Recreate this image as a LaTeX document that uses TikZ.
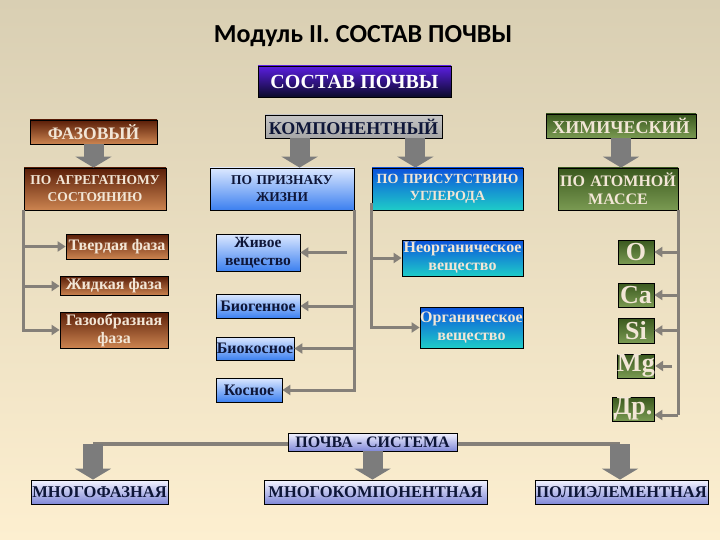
\documentclass[tikz,border=0pt]{standalone}
\usepackage{fontspec}
\setmainfont{Liberation Serif}
\newfontfamily\titlefont{Carlito}
\usetikzlibrary{arrows.meta}

\definecolor{bgtop}{HTML}{D9CFB3}
\definecolor{bgbot}{HTML}{FDEFD0}
\definecolor{brownT}{HTML}{5A1E08}
\definecolor{brownB}{HTML}{CC8450}
\definecolor{lightT}{HTML}{F2E6D6}
\definecolor{navy}{HTML}{0E1638}
\definecolor{skyT}{HTML}{DCE8FF}
\definecolor{skyB}{HTML}{3C80F0}
\definecolor{seaT}{HTML}{0C52DC}
\definecolor{seaB}{HTML}{1ECCC8}
\definecolor{olivT}{HTML}{3A581E}
\definecolor{olivB}{HTML}{7A9A52}
\definecolor{violT}{HTML}{5A1EE0}
\definecolor{violB}{HTML}{0A0A28}
\definecolor{lavT}{HTML}{F4F4FF}
\definecolor{lavB}{HTML}{8088D8}
\definecolor{linkgray}{HTML}{858079}
\definecolor{blockgray}{HTML}{7C7C7C}

\begin{document}
\begin{tikzpicture}[x=1pt, y=-1pt,
	box/.style={draw=black, line width=0.8pt, inner sep=0pt, align=center},
	fs/.style 2 args={font=\bfseries\fontsize{#1}{#2}\selectfont},
	brownbox/.style={box, top color=brownT, bottom color=brownB, text=lightT},
	skybox/.style={box, top color=skyT, bottom color=skyB, text=navy},
	seabox/.style={box, top color=seaT, bottom color=seaB, text=lightT},
	olivbox/.style={box, top color=olivT, bottom color=olivB, text=lightT},
	lavbox/.style={box, top color=lavT, bottom color=lavB, text=navy},
	link/.style={draw=linkgray, line width=3pt, -{Triangle[width=10pt,length=8pt]}},
	block/.style={draw=blockgray, line width=20pt, -{Triangle[width=36pt,length=11pt]}}]

	% background
	\shade[top color=bgtop, bottom color=bgbot] (0,0) rectangle (720,540);

	\node[font=\titlefont\bfseries\fontsize{26}{28}\selectfont] (title) at (363,36) {Модуль II. СОСТАВ ПОЧВЫ};
	\node[box, top color=violT, bottom color=violB, text=white, fs={20}{22},
		minimum width=193, minimum height=31] (sostav) at (354.5,81.5) {СОСТАВ ПОЧВЫ};

	% phase
	\node[brownbox, fs={17.5}{19}, minimum width=127, minimum height=24] (faz) at (93.5,132) {ФАЗОВЫЙ};
	\node[brownbox, fs={13.5}{17}, minimum width=142, minimum height=42, text width=142] (agr) at (95,189)
		{ПО АГРЕГАТНОМУ\\СОСТОЯНИЮ};
	\node[brownbox, fs={16}{18}, minimum width=102, minimum height=25] (tverd) at (117,246.5) {Твердая фаза};
	\node[brownbox, fs={16}{18}, minimum width=108, minimum height=19] (zhid) at (114,286) {Жидкая фаза};
	\node[brownbox, fs={16}{18}, minimum width=108, minimum height=36, text width=108] (gaz) at (114,330)
		{Газообразная\\фаза};

	\draw[block] (faz.south) -- (faz.south |- agr.north);
	\draw[link] (agr.south west) |- (tverd.west);
	\draw[link] (agr.south west) |- (zhid.west);
	\draw[link] (agr.south west) |- (gaz.west);

	% components
	\node[box, top color=gray!45, middle color=white, bottom color=gray!70, text=navy, fs={18}{20},
		minimum width=177, minimum height=23] (komp) at (353.5,126.5) {КОМПОНЕНТНЫЙ};
	\node[skybox, fs={13.5}{17}, minimum width=144, minimum height=42, text width=144] (priz) at (282,189)
		{ПО ПРИЗНАКУ\\ЖИЗНИ};
	\node[skybox, fs={15.5}{18}, minimum width=84, minimum height=37, text width=84] (zhivoe) at (258,252.5)
		{Живое\\вещество};
	\node[skybox, fs={16}{18}, minimum width=84, minimum height=24] (biogen) at (258,306) {Биогенное};
	\node[skybox, fs={16}{18}, minimum width=78, minimum height=23] (biokos) at (255,348.5) {Биокосное};
	\node[skybox, fs={16}{18}, minimum width=66, minimum height=24] (kosn) at (249,390) {Косное};

	\node[seabox, fs={14}{17}, minimum width=151, minimum height=42, text width=151] (prisut) at (447.5,189)
		{ПО ПРИСУТСТВИЮ\\УГЛЕРОДА};
	\node[seabox, fs={16}{18}, minimum width=121, minimum height=36, text width=121] (neorg) at (462.5,258)
		{Неорганическое\\вещество};
	\node[seabox, fs={16}{18}, minimum width=103, minimum height=41, text width=103] (org) at (471.5,327.5)
		{Органическое\\вещество};

	\draw[block] ([xshift=35]komp.south west) -- ([xshift=35]komp.south west |- priz.north);
	\draw[block] ([xshift=-27]komp.south east) -- ([xshift=-27]komp.south east |- prisut.north);

	\coordinate (zhivfree) at (347,252.5);
	\draw[draw=linkgray, line width=3pt] (priz.south east) -- (priz.south east |- kosn);
	\draw[link] (zhivfree) -- (zhivoe.east);
	\draw[link] (priz.south east) |- (biogen.east);
	\draw[link] (priz.south east) |- (biokos.east);
	\draw[link] (priz.south east) |- (kosn.east);

	\coordinate (prisfoot) at ([yshift=7]prisut.south west);
	\draw[link] (prisfoot) |- (neorg.west);
	\draw[link] (prisfoot) |- (org.west);

	% chemistry
	\node[olivbox, fs={18}{20}, minimum width=150, minimum height=24] (him) at (621,126) {ХИМИЧЕСКИЙ};
	\node[olivbox, fs={16}{18}, minimum width=120, minimum height=42, text width=120] (atom) at (618,189)
		{ПО АТОМНОЙ\\МАССЕ};
	\node[olivbox, fs={26}{27}, minimum width=36, minimum height=24] (elO) at (636,252) {O};
	\node[olivbox, fs={26}{27}, minimum width=36, minimum height=24] (elCa) at (636,295) {Ca};
	\node[olivbox, fs={26}{27}, minimum width=36, minimum height=25] (elSi) at (636,330.5) {Si};
	\node[olivbox, fs={26}{27}, minimum width=36, minimum height=24] (elMg) at (636,366) {Mg};
	\node[olivbox, fs={26}{27}, minimum width=42, minimum height=24] (elDr) at (633,409) {Др.};

	\draw[block] (him.south) -- (him.south |- atom.north);
	\coordinate (mgfree) at (672,366);
	\draw[draw=linkgray, line width=3pt] (atom.south east) -- ([yshift=-6]atom.south east |- elDr);
	\draw[link] (atom.south east) |- (elO.east);
	\draw[link] (atom.south east) |- (elCa.east);
	\draw[link] (atom.south east) |- (elSi.east);
	\draw[link] (mgfree) -- (elMg.east);
	\draw[link] ([yshift=-6]atom.south east |- elDr) -- ([yshift=-6]elDr.east);

	% soil as a system
	\coordinate (sysL) at (93,444);
	\coordinate (sysR) at (620,444);
	\draw[draw=linkgray, line width=3.5pt] (sysL) -- (sysR);
	\node[lavbox, fs={16}{18}, minimum width=169, minimum height=18] (sys) at (372.5,442) {ПОЧВА - СИСТЕМА};
	\node[lavbox, fs={16.5}{18}, minimum width=137, minimum height=24] (mnf) at (99.5,492) {МНОГОФАЗНАЯ};
	\node[lavbox, fs={16.5}{18}, minimum width=223, minimum height=24] (mnk) at (375.5,492) {МНОГОКОМПОНЕНТНАЯ};
	\node[lavbox, fs={16.5}{18}, minimum width=173, minimum height=24] (pol) at (621.5,492) {ПОЛИЭЛЕМЕНТНАЯ};

	\draw[block] (sysL) -- (sysL |- mnf.north);
	\draw[block] (sys.south) -- (sys.south |- mnk.north);
	\draw[block] (sysR) -- (sysR |- pol.north);
\end{tikzpicture}
\end{document}
